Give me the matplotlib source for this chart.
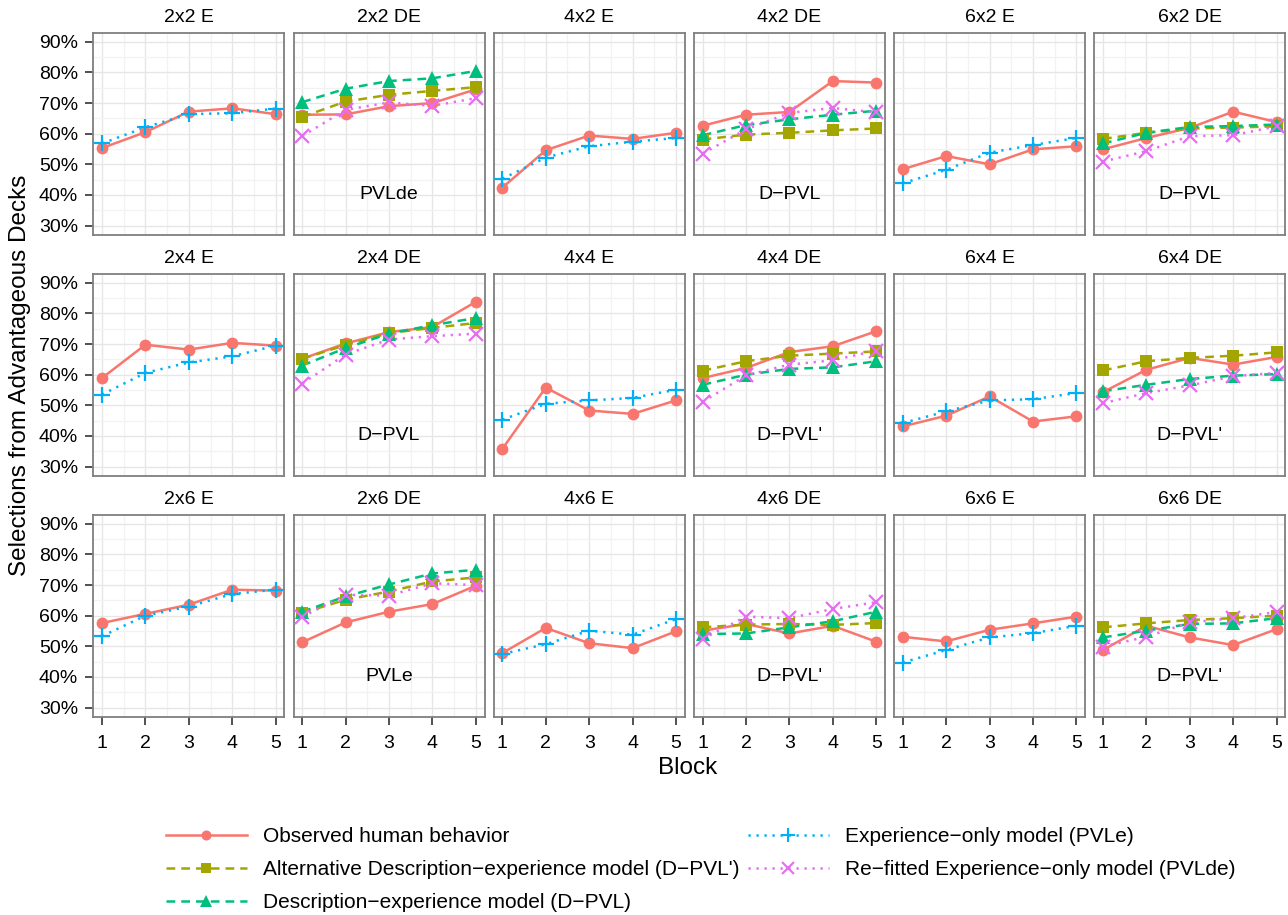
import matplotlib
matplotlib.use("Agg")
import matplotlib.pyplot as plt
from matplotlib.lines import Line2D
from matplotlib.ticker import FuncFormatter, MultipleLocator

plt.rcParams['font.family'] = ['Liberation Sans', 'DejaVu Sans']

blocks = [1, 2, 3, 4, 5]
panel_titles = ["2x2 E", "2x2 DE", "4x2 E", "4x2 DE", "6x2 E", "6x2 DE",
                "2x4 E", "2x4 DE", "4x4 E", "4x4 DE", "6x4 E", "6x4 DE",
                "2x6 E", "2x6 DE", "4x6 E", "4x6 DE", "6x6 E", "6x6 DE"]
panel_notes = [None, "PVLde", None, "D\u2212PVL", None, "D\u2212PVL",
               None, "D\u2212PVL", None, "D\u2212PVL'", None, "D\u2212PVL'",
               None, "PVLe", None, "D\u2212PVL'", None, "D\u2212PVL'"]

observed = [
    [.553, .605, .672, .683, .664], [.662, .663, .690, .700, .745],
    [.424, .546, .594, .583, .603], [.626, .662, .671, .772, .767],
    [.484, .527, .500, .549, .559], [.549, .586, .619, .672, .638],
    [.589, .698, .682, .704, .695], [.652, .702, .739, .756, .838],
    [.358, .558, .483, .472, .516], [.589, .622, .674, .693, .742],
    [.431, .466, .529, .447, .464], [.543, .616, .655, .633, .658],
    [.576, .606, .636, .685, .682], [.513, .578, .613, .638, .698],
    [.478, .560, .510, .494, .549], [.551, .573, .542, .567, .515],
    [.531, .516, .554, .575, .597], [.488, .567, .529, .504, .556],
]
dpvl_alt = [
    None, [.655, .705, .727, .740, .752],
    None, [.581, .597, .603, .611, .617],
    None, [.583, .603, .617, .620, .624],
    None, [.652, .697, .736, .753, .769],
    None, [.613, .644, .662, .669, .676],
    None, [.614, .644, .655, .662, .673],
    None, [.609, .652, .679, .712, .725],
    None, [.562, .571, .573, .570, .576],
    None, [.562, .575, .586, .592, .600],
]
dpvl = [
    None, [.703, .747, .772, .781, .805],
    None, [.595, .628, .647, .662, .675],
    None, [.568, .603, .622, .625, .630],
    None, [.630, .687, .734, .762, .785],
    None, [.567, .600, .619, .624, .644],
    None, [.546, .567, .586, .597, .602],
    None, [.613, .663, .702, .738, .750],
    None, [.540, .542, .562, .582, .613],
    None, [.529, .551, .573, .575, .592],
]
pvle = [
    [.568, .621, .664, .667, .682], None,
    [.453, .522, .559, .574, .586], None,
    [.438, .482, .538, .563, .586], None,
    [.535, .606, .640, .660, .695], None,
    [.453, .505, .516, .524, .551], None,
    [.442, .480, .516, .520, .540], None,
    [.533, .600, .630, .671, .685], None,
    [.475, .507, .551, .538, .589], None,
    [.447, .488, .529, .543, .567], None,
]
pvlde = [
    None, [.592, .678, .702, .691, .716],
    None, [.535, .614, .668, .684, .670],
    None, [.509, .543, .592, .595, .624],
    None, [.571, .666, .715, .726, .734],
    None, [.511, .598, .633, .647, .679],
    None, [.507, .540, .565, .595, .606],
    None, [.596, .668, .666, .706, .700],
    None, [.524, .597, .592, .622, .644],
    None, [.499, .531, .578, .592, .612],
]

series_labels = ["Observed human behavior",
                 "Alternative Description\u2212experience model (D\u2212PVL')",
                 "Description\u2212experience model (D\u2212PVL)",
                 "Experience\u2212only model (PVLe)",
                 "Re\u2212fitted Experience\u2212only model (PVLde)"]
series_data = [observed, dpvl_alt, dpvl, pvle, pvlde]
colors = ["#F8766D", "#A3A500", "#00BF7D", "#00B0F6", "#E76BF3"]
dash = (0, (3.5, 2.4))
dot = (0, (0.9, 2.3))
styles = ["-", dash, dash, dot, dot]
markers = ["o", "s", "^", "+", "x"]
msizes = [8.5, 8, 10, 12, 9.5]
LW = 1.8

W, H = 1288, 915
fig = plt.figure(figsize=(W / 100, H / 100), dpi=100)

pw, ph = 191.0, 202.0
left0, gapx = 93.3, 9.2
tops = [32.7, 273.7, 514.7]
FS = 14

for i, title in enumerate(panel_titles):
    r, c = divmod(i, 6)
    x0 = left0 + c * (pw + gapx)
    y0 = tops[r]
    ax = fig.add_axes([x0 / W, 1 - (y0 + ph) / H, pw / W, ph / H])
    ax.set_xlim(0.8, 5.2)
    ax.set_ylim(0.27, 0.93)
    ax.xaxis.set_major_locator(MultipleLocator(1))
    ax.xaxis.set_minor_locator(MultipleLocator(0.5))
    ax.yaxis.set_major_locator(MultipleLocator(0.1))
    ax.yaxis.set_minor_locator(MultipleLocator(0.05))
    ax.grid(True, which="major", color="#E6E6E6", linewidth=1.0, zorder=0)
    ax.grid(True, which="minor", color="#F2F2F2", linewidth=0.9, zorder=0)
    ax.set_axisbelow(True)
    for sp in ax.spines.values():
        sp.set_color("#7F7F7F")
        sp.set_linewidth(1.3)
    ax.tick_params(which="minor", length=0)
    ax.tick_params(which="major", length=6, width=1.2, color="#333333",
                   labelsize=FS, pad=5)
    if c == 0:
        ax.yaxis.set_major_formatter(FuncFormatter(lambda v, p: f"{v*100:.0f}%"))
    else:
        ax.tick_params(axis="y", which="major", length=0, labelleft=False)
    if r == 2:
        ax.set_xticks(blocks)
        ax.set_xticklabels([str(b) for b in blocks])
        ax.tick_params(axis="x", which="major", pad=7)
    else:
        ax.tick_params(axis="x", which="major", length=0, labelbottom=False)
    ax.set_title(title, fontsize=FS, pad=8)

    for k, data in enumerate(series_data):
        vals = data[i]
        if vals is None:
            continue
        ax.plot(blocks, vals, color=colors[k], linestyle=styles[k],
                linewidth=LW, zorder=2 + k * 0.01)
    for k, data in enumerate(series_data):
        vals = data[i]
        if vals is None:
            continue
        ax.plot(blocks, vals, color=colors[k], linestyle="none",
                marker=markers[k], markersize=msizes[k],
                markeredgewidth=1.6 if markers[k] in "+x" else 0,
                zorder=3 + k * 0.01)
    if panel_notes[i]:
        ax.text(3, 0.40, panel_notes[i], ha="center", va="center", fontsize=FS)

fig.text(20 / W, 1 - 375 / H, "Selections from Advantageous Decks",
         rotation=90, ha="center", va="center", fontsize=17.5)
fig.text(688 / W, 1 - 768 / H, "Block", ha="center", va="center", fontsize=17.5)

handles = []
for k in range(5):
    handles.append(Line2D([0], [0], color=colors[k], linestyle=styles[k],
                          linewidth=LW, marker=markers[k], markersize=msizes[k] * 0.85,
                          markeredgewidth=1.5 if markers[k] in "+x" else 0))
LFS = 15
common = dict(loc="upper left", frameon=False, fontsize=LFS, handlelength=3.9,
              handletextpad=0.75, labelspacing=0.68, borderpad=0, borderaxespad=0)
leg1 = fig.legend(handles[:3], series_labels[:3],
                  bbox_to_anchor=(165.7 / W, 1 - 827 / H), **common)
leg2 = fig.legend(handles[3:], series_labels[3:],
                  bbox_to_anchor=(747.7 / W, 1 - 827 / H), **common)

fig.savefig("out.png", dpi=100)
